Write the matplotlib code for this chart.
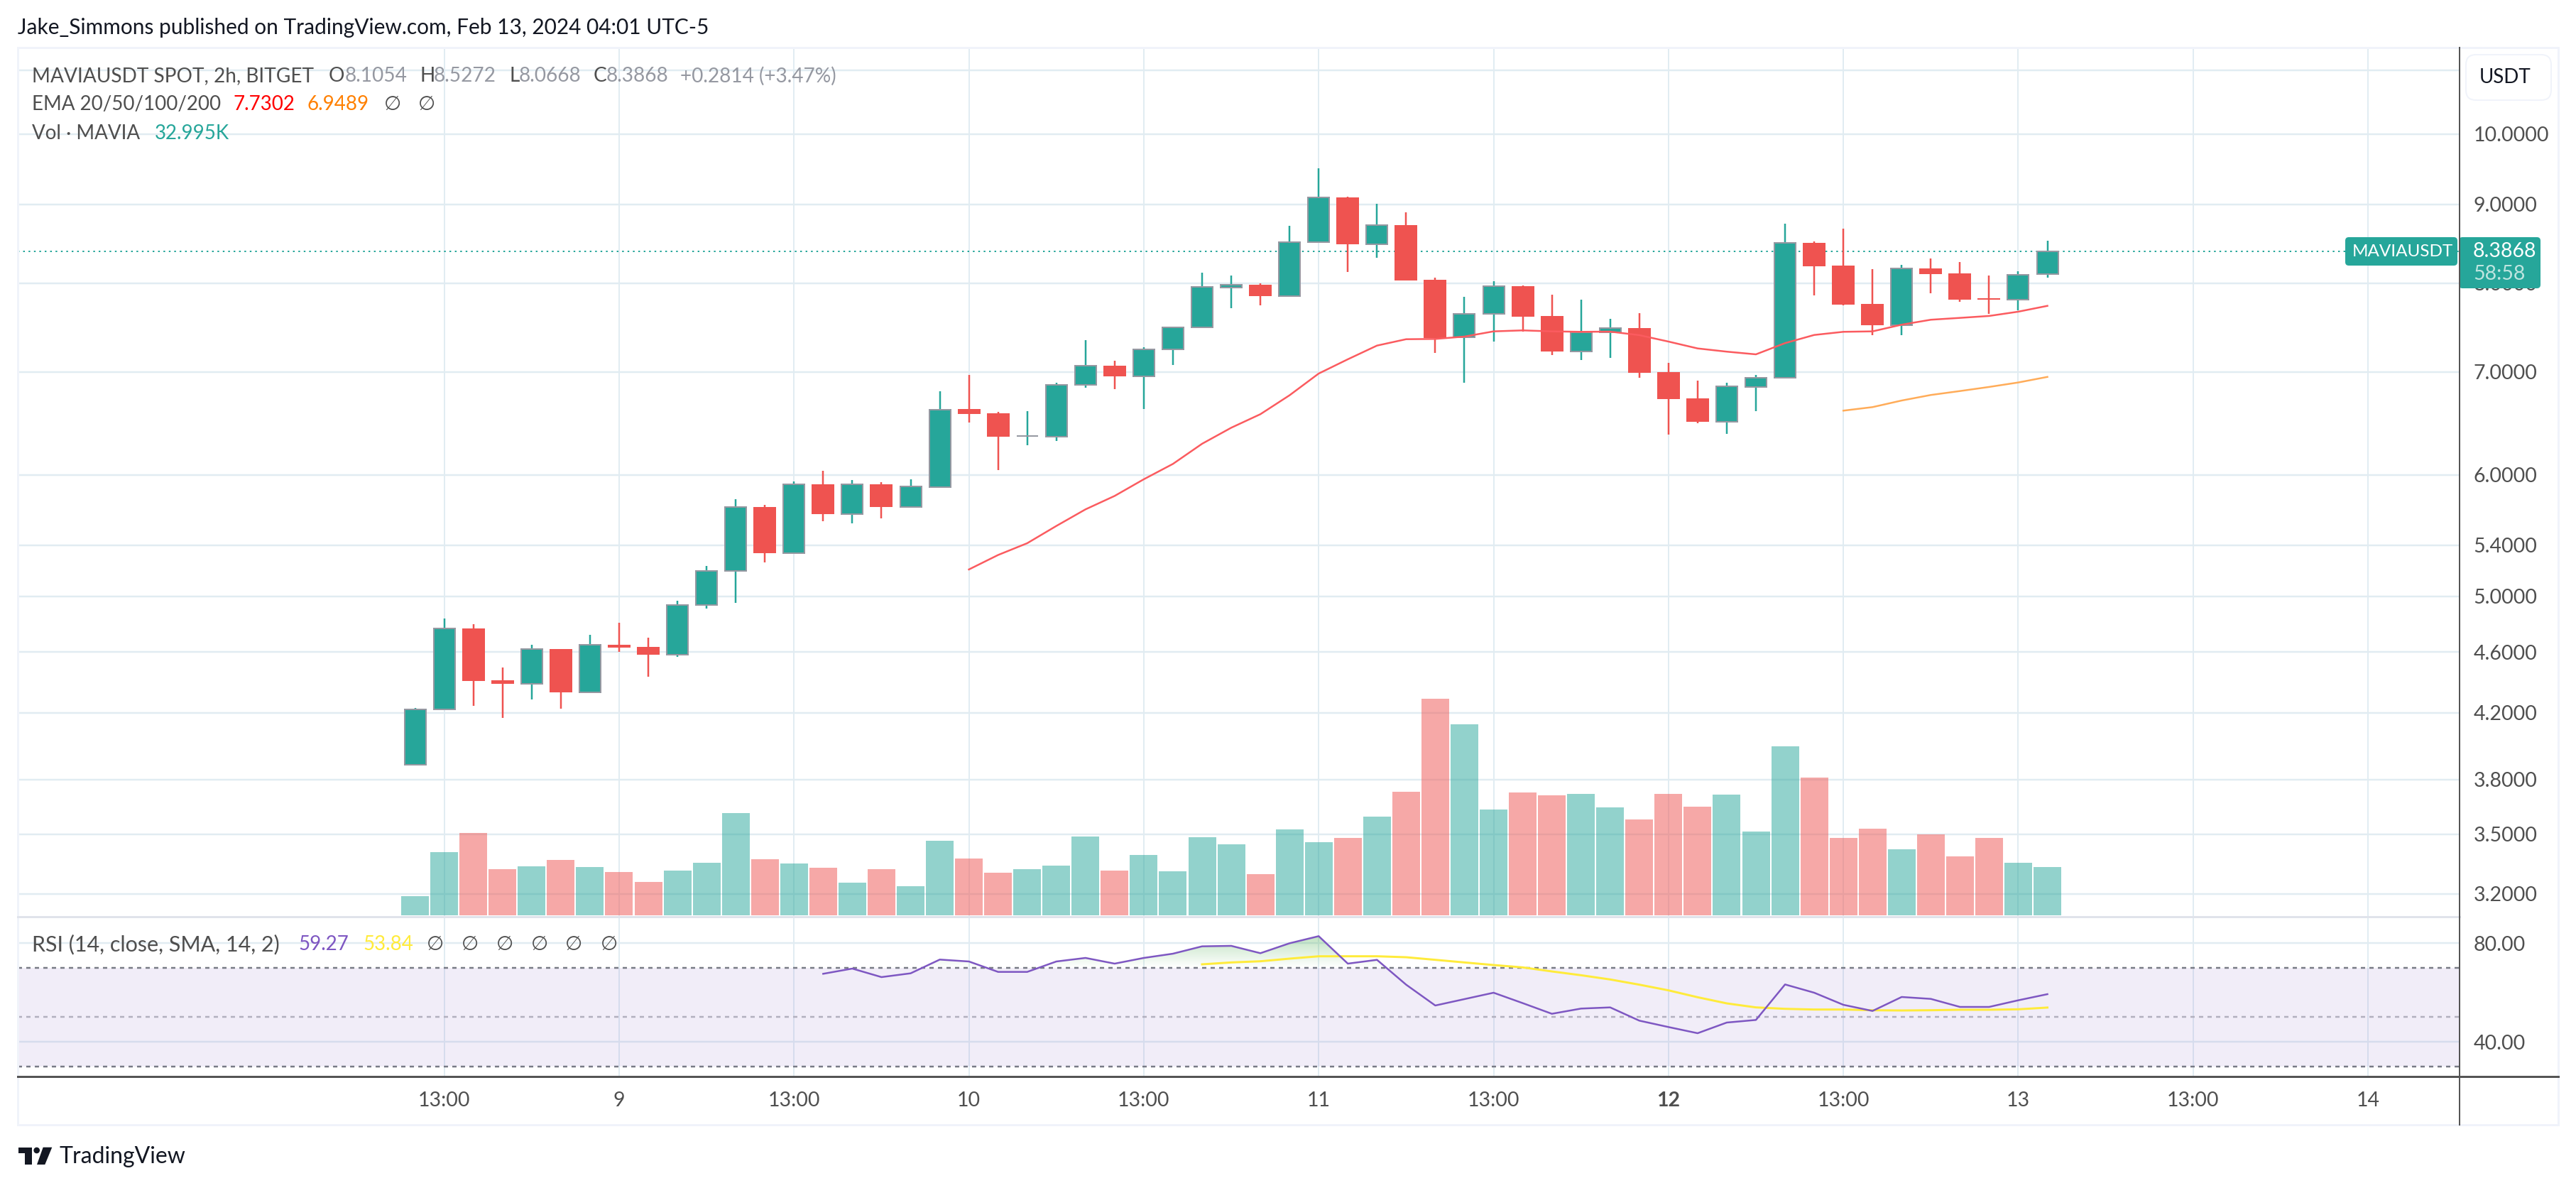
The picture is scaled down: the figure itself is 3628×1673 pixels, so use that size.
#!/usr/bin/env python3
"""MAVIAUSDT 2h chart with EMA, volume and RSI panes."""

import numpy as np
import matplotlib
matplotlib.use("Agg")
import matplotlib.pyplot as plt
from matplotlib.patches import FancyBboxPatch, Rectangle, Polygon, Circle
from matplotlib.path import Path
from matplotlib.ticker import NullLocator

W, H = 3628, 1673
PX = 0.72  # one pixel in points at dpi 100

plt.rcParams["font.family"] = ["Lato", "DejaVu Sans"]

opens = [3.884, 4.221, 4.765, 4.409, 4.386, 4.620, 4.330, 4.650, 4.635, 4.582,
         4.934, 5.193, 5.717, 5.335, 5.916, 5.659, 5.916, 5.717, 5.893, 6.622,
         6.580, 6.358, 6.354, 6.864, 7.066, 6.957, 7.240, 7.483, 7.945, 7.979,
         7.846, 8.503, 9.096, 8.481, 8.726, 8.038, 7.371, 7.634, 7.962, 7.613,
         7.220, 7.427, 7.476, 7.000, 6.729, 6.498, 6.848, 6.938, 8.497, 8.211,
         7.752, 7.511, 8.177, 8.116, 7.819, 7.805, 8.1054]
closes = [4.221, 4.764, 4.404, 4.385, 4.619, 4.330, 4.649, 4.630, 4.581, 4.934,
          5.193, 5.715, 5.335, 5.914, 5.657, 5.914, 5.717, 5.895, 6.617, 6.575,
          6.353, 6.362, 6.864, 7.064, 6.955, 7.240, 7.483, 7.951, 7.979, 7.844,
          8.503, 9.093, 8.478, 8.723, 8.030, 7.366, 7.636, 7.959, 7.606, 7.218,
          7.427, 7.474, 6.992, 6.722, 6.496, 6.850, 6.938, 8.494, 8.203, 7.744,
          7.509, 8.174, 8.107, 7.803, 7.803, 8.096, 8.3868]
highs = [4.230, 4.838, 4.798, 4.494, 4.650, 4.620, 4.720, 4.808, 4.700, 4.967,
         5.234, 5.785, 5.735, 5.941, 6.036, 5.954, 5.935, 5.960, 6.801, 6.969,
         6.594, 6.601, 6.889, 7.343, 7.120, 7.265, 7.493, 8.124, 8.090, 7.996,
         8.716, 9.502, 9.105, 9.009, 8.895, 8.064, 7.836, 8.022, 7.970, 7.861,
         7.803, 7.581, 7.646, 7.097, 6.911, 6.889, 6.969, 8.744, 8.515, 8.679,
         8.168, 8.220, 8.300, 8.256, 8.090, 8.142, 8.5272]
lows = [3.884, 4.221, 4.243, 4.167, 4.284, 4.225, 4.326, 4.602, 4.432, 4.567,
        4.910, 4.951, 5.261, 5.335, 5.597, 5.579, 5.621, 5.717, 5.886, 6.489,
        6.043, 6.272, 6.313, 6.837, 6.823, 6.622, 7.074, 7.483, 7.704, 7.736,
        7.846, 8.503, 8.133, 8.309, 8.030, 7.204, 6.889, 7.327, 7.437, 7.181,
        7.127, 7.150, 6.940, 6.373, 6.483, 6.380, 6.601, 6.938, 7.853, 7.736,
        7.398, 7.398, 7.877, 7.778, 7.638, 7.679, 8.0668]
volumes = [13.1, 43.2, 56.3, 31.5, 33.5, 37.8, 33.0, 29.6, 22.8, 30.6,
           35.9, 69.9, 38.3, 35.4, 32.5, 22.3, 31.5, 19.9, 50.9, 38.8,
           29.1, 31.5, 34.0, 53.9, 30.6, 41.2, 30.1, 53.4, 48.5, 28.1,
           58.7, 50.0, 52.9, 67.4, 84.4, 148.0, 130.5, 72.3, 83.9, 82.0,
           83.0, 73.8, 65.5, 83.0, 74.2, 82.5, 57.3, 115.5, 94.1, 52.9,
           59.2, 45.1, 55.3, 40.3, 52.9, 35.9, 32.995]

ema20_start = 19
ema20 = [5.206, 5.320, 5.415, 5.557, 5.697, 5.813, 5.960, 6.099, 6.286, 6.439,
         6.571, 6.760, 6.984, 7.135, 7.283, 7.353, 7.356, 7.382, 7.440, 7.451,
         7.440, 7.435, 7.437, 7.398, 7.327, 7.252, 7.217, 7.188, 7.310, 7.400,
         7.435, 7.440, 7.515, 7.571, 7.592, 7.614, 7.663, 7.7302]
ema50_start = 49
ema50 = [6.606, 6.641, 6.707, 6.763, 6.803, 6.845, 6.891, 6.9489]

rsi_start = 14
rsi = [67.53, 69.64, 66.19, 67.72, 73.29, 72.52, 68.30, 68.30, 72.52, 73.96,
       71.65, 73.96, 75.68, 78.66, 78.85, 75.88, 79.90, 82.78, 71.65, 73.19,
       63.12, 54.68, 57.27, 59.86, 55.64, 51.32, 53.43, 53.91, 48.54, 45.95,
       43.45, 47.77, 48.82, 63.21, 59.86, 54.96, 52.47, 58.13, 57.36, 54.10,
       54.10, 56.79, 59.27]
rsi_ma_start = 27
rsi_ma = [71.37, 72.13, 72.61, 73.67, 74.63, 74.63, 74.63, 74.24, 73.19, 72.13,
          71.08, 70.12, 68.49, 66.95, 65.23, 63.12, 60.82, 58.03, 55.54, 53.91,
          53.33, 53.05, 53.05, 52.76, 52.66, 52.76, 52.95, 52.95, 53.14, 53.84]

price_ticks = [11, 10, 9, 8, 7, 6, 5.4, 5, 4.6, 4.2, 3.8, 3.5, 3.2]
price_labels = ["", "10.0000", "9.0000", "8.0000", "7.0000", "6.0000", "5.4000",
                "5.0000", "4.6000", "4.2000", "3.8000", "3.5000", "3.2000"]
rsi_ticks = [80, 40]
rsi_labels = ["80.00", "40.00"]
time_ticks = [1, 7, 13, 19, 25, 31, 37, 43, 49, 55, 61, 67]
time_labels = ["13:00", "9", "13:00", "10", "13:00", "11", "13:00", "12",
               "13:00", "13", "13:00", "14"]

TEAL = "#26a69a"
RED = "#ef5350"
BORDER = "#9598a1"
GRID = "#e1ecf2"
INK = "#131722"
LABEL = "#4f4f4f"
MUTED = "#9598a1"
PURPLE = "#7e57c2"
YELLOW = "#ffeb3b"
LEFT, RIGHT, TOP, PANE, BOTTOM = 25, 3464, 67, 1291, 1516
XLIM = (-13.632, 70.14)


def axes_box(fig, top, bottom):
    return fig.add_axes([LEFT / W, 1 - bottom / H, (RIGHT - LEFT) / W, (bottom - top) / H])


def style_grid(ax):
    for s in ax.spines.values():
        s.set_visible(False)
    ax.yaxis.tick_right()
    ax.set_xticks(time_ticks)
    ax.grid(True, axis="x", color=GRID, linewidth=2 * PX)
    ax.grid(True, axis="y", color=GRID, linewidth=2.5 * PX)
    ax.set_axisbelow(True)
    ax.tick_params(length=0, labelsize=20.5, labelcolor=LABEL)
    ax.tick_params(axis="y", pad=14)


def draw_candles(ax):
    o, c, h, l = map(np.array, (opens, closes, highs, lows))
    x = np.arange(len(o))
    up = c >= o
    ax.vlines(x[up], l[up], h[up], color=TEAL, linewidth=2.5 * PX, zorder=3)
    ax.vlines(x[~up], l[~up], h[~up], color=RED, linewidth=2.5 * PX, zorder=3)
    ax.bar(x[up], np.abs(c - o)[up], bottom=np.minimum(o, c)[up], width=30 / 41.05,
           color=TEAL, edgecolor=BORDER, linewidth=2 * PX, zorder=4)
    ax.bar(x[~up], np.abs(c - o)[~up], bottom=np.minimum(o, c)[~up], width=32 / 41.05,
           color=RED, linewidth=0, zorder=4)


def price_pane(fig):
    ax = axes_box(fig, TOP, PANE)
    ax.set_yscale("log")
    style_grid(ax)
    ax.set_yticks(price_ticks)
    ax.set_yticklabels(price_labels)
    ax.set_xticklabels([])
    ax.yaxis.set_minor_locator(NullLocator())
    draw_candles(ax)
    ax.plot(np.arange(len(ema20)) + ema20_start, ema20, color="#fb5b5f", linewidth=2.5 * PX, zorder=5)
    ax.plot(np.arange(len(ema50)) + ema50_start, ema50, color="#ffac59", linewidth=2.5 * PX, zorder=5)
    ax.axhline(closes[-1], color=TEAL, linewidth=2 * PX, dashes=(1.2, 2.6), zorder=2)
    ax.set_xlim(*XLIM)
    ax.set_ylim(3.0925, 11.387)
    return ax


def volume_pane(fig):
    ax = axes_box(fig, TOP, PANE)
    ax.patch.set_visible(False)
    ax.axis("off")
    colors = [TEAL if c >= o else RED for o, c in zip(opens, closes)]
    ax.bar(np.arange(len(volumes)), volumes, width=39 / 41.05, color=colors, alpha=0.5, linewidth=0)
    ax.set_xlim(*XLIM)
    ax.set_ylim(-0.97, 592.9)
    return ax


def rsi_pane(fig):
    ax = axes_box(fig, PANE, BOTTOM)
    style_grid(ax)
    ax.set_yticks(rsi_ticks)
    ax.set_yticklabels(rsi_labels)
    ax.set_xticklabels(time_labels)
    ax.tick_params(axis="x", pad=15)
    ax.get_xticklabels()[time_labels.index("12")].set_fontweight("bold")
    ax.axhspan(30, 70, color=PURPLE, alpha=0.1, linewidth=0, zorder=1)
    for level, col in [(70, "#787b86"), (50, "#b2b0be"), (30, "#787b86")]:
        ax.axhline(level, color=col, linewidth=2.5 * PX, dashes=(2.4, 2.4), zorder=2)

    x = np.arange(len(rsi)) + rsi_start
    vals = np.array(rsi)
    fill = ax.fill_between(x, vals, 70, where=vals > 70, interpolate=True, color="none")
    clip = Path.make_compound_path(*fill.get_paths())
    grad = np.zeros((64, 2, 4))
    grad[..., :3] = matplotlib.colors.to_rgb("#4caf50")
    grad[..., 3] = np.linspace(0.38, 0, 64)[:, None]
    im = ax.imshow(grad, extent=(x[0], x[-1], 70, 84), origin="upper", aspect="auto", zorder=3)
    im.set_clip_path(clip, transform=ax.transData)

    ax.plot(x, vals, color=PURPLE, linewidth=2.5 * PX, zorder=5)
    ax.plot(np.arange(len(rsi_ma)) + rsi_ma_start, rsi_ma, color=YELLOW, linewidth=3 * PX, zorder=4)
    ax.set_xlim(*XLIM)
    ax.set_ylim(25.9, 90.65)
    return ax


def chrome(fig):
    ov = fig.add_axes([0, 0, 1, 1], zorder=10)
    ov.patch.set_visible(False)
    ov.axis("off")
    ov.set_xlim(0, W)
    ov.set_ylim(H, 0)

    ov.add_patch(Rectangle((LEFT, TOP), 3603 - LEFT, 1584 - TOP, fill=False, edgecolor="#f0f3fa", linewidth=3 * PX))
    ov.plot([LEFT, RIGHT], [PANE, PANE], color="#e0e3eb", linewidth=3 * PX)
    ov.plot([LEFT, 3603], [BOTTOM, BOTTOM], color="#555555", linewidth=3 * PX)
    ov.plot([RIGHT, RIGHT], [TOP, 1584], color="#555555", linewidth=2 * PX)

    ov.add_patch(FancyBboxPatch((3478, 82), 110, 54, boxstyle="round,pad=5,rounding_size=14",
                                facecolor="white", edgecolor="#f0f3fa", linewidth=2 * PX))
    ov.text(3528, 109, "USDT", color=INK, fontsize=20, ha="center", va="center")

    ov.add_patch(FancyBboxPatch((3307, 338), 150, 32, boxstyle="round,pad=4,rounding_size=5",
                                facecolor=TEAL, linewidth=0))
    ov.add_patch(FancyBboxPatch((3467, 338), 107, 64, boxstyle="round,pad=4,rounding_size=5",
                                facecolor=TEAL, linewidth=0))
    ov.text(3313, 354, "MAVIAUSDT", color="white", fontsize=17.5, va="center")
    ov.text(3483, 354, "8.3868", color="white", fontsize=20.5, va="center")
    ov.text(3483, 386, "58:58", color="#bfe5e0", fontsize=20.5, va="center")

    ov.text(25, 39, "Jake_Simmons published on TradingView.com, Feb 13, 2024 04:01 UTC-5",
            color=INK, fontsize=21.5, va="center")

    rows = [
        (107, 20.2, [(45, "MAVIAUSDT SPOT, 2h, BITGET", LABEL), (463, "O", LABEL), (486, "8.1054", MUTED),
                     (591, "H", LABEL), (611, "8.5272", MUTED), (717, "L", LABEL), (731, "8.0668", MUTED),
                     (836, "C", LABEL), (854, "8.3868", MUTED), (958, "+0.2814 (+3.47%)", MUTED)]),
        (147, 20, [(45, "EMA 20/50/100/200", LABEL), (328, "7.7302", "#ff0000"), (433, "6.9489", "#ff8000"),
                   (541, "\u2205", LABEL), (589, "\u2205", LABEL)]),
        (188, 20, [(45, "Vol \u00b7 MAVIA", LABEL), (218, "32.995K", TEAL)]),
        (1330, 20, [(420, "59.27", PURPLE), (511, "53.84", YELLOW),
                    (601, "\u2205", LABEL), (650, "\u2205", LABEL), (699, "\u2205", LABEL),
                    (748, "\u2205", LABEL), (796, "\u2205", LABEL), (846, "\u2205", LABEL)]),
        (1330, 22, [(45, "RSI (14, close, SMA, 14, 2)", LABEL)]),
    ]
    for y, size, parts in rows:
        for x, label, col in parts:
            ov.text(x, y, label, color=col, fontsize=size, va="center")

    ov.add_patch(Rectangle((25.7, 1615.7), 19.3, 8.3, facecolor=INK, linewidth=0))
    ov.add_patch(Rectangle((35, 1615.7), 10, 24.3, facecolor=INK, linewidth=0))
    ov.add_patch(Circle((51.7, 1620), 4.3, facecolor=INK, linewidth=0))
    ov.add_patch(Polygon([(60.7, 1615.7), (73.3, 1615.7), (63.3, 1640), (52, 1640)], facecolor=INK, linewidth=0))
    ov.text(83, 1629, "TradingView", color=INK, fontsize=23, va="center")


def main():
    fig = plt.figure(figsize=(W / 100, H / 100), dpi=100)
    price_pane(fig)
    volume_pane(fig)
    rsi_pane(fig)
    chrome(fig)
    fig.savefig("out.png", dpi=100)


if __name__ == "__main__":
    main()
